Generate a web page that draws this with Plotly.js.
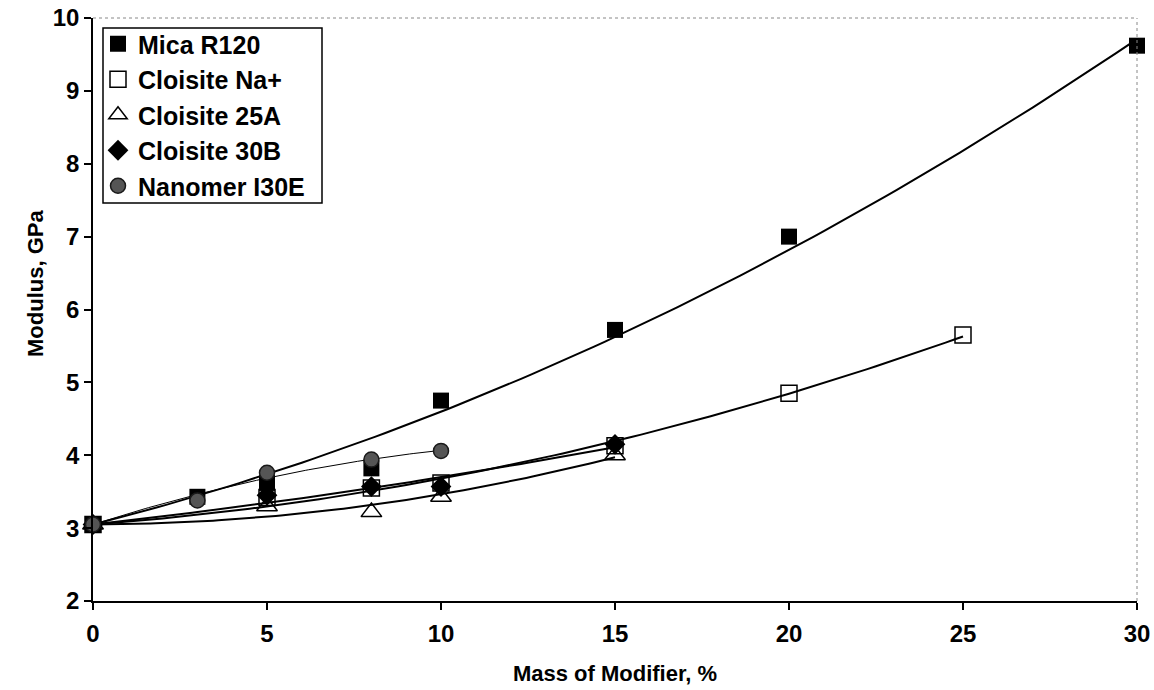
<!DOCTYPE html>
<html>
<head>
<meta charset="utf-8">
<script src="https://cdn.plot.ly/plotly-3.0.1.min.js"></script>
<style>html,body{margin:0;padding:0;background:#fff;}#chart{width:1154px;height:690px;}</style>
</head>
<body>
<div id="chart"></div>
<script>
// ---- data ----
const seriesNames = ["Mica R120", "Cloisite Na+", "Cloisite 25A", "Cloisite 30B", "Nanomer I30E"];
const xMica = [0, 3, 5, 8, 10, 15, 20, 30];
const yMica = [3.05, 3.43, 3.62, 3.82, 4.75, 5.72, 7.0, 9.62];
const xNa = [0, 5, 8, 10, 15, 20, 25];
const yNa = [3.05, 3.42, 3.55, 3.62, 4.13, 4.85, 5.65];
const x25A = [0, 5, 8, 10, 15];
const y25A = [3.05, 3.3, 3.22, 3.43, 4.0];
const x30B = [0, 5, 8, 10, 15];
const y30B = [3.05, 3.45, 3.57, 3.57, 4.15];
const xNano = [0, 3, 5, 8, 10];
const yNano = [3.05, 3.38, 3.76, 3.94, 4.06];
const xTickVals = [0, 5, 10, 15, 20, 25, 30];
const yTickVals = [2, 3, 4, 5, 6, 7, 8, 9, 10];

// quadratic least-squares trendline with the intercept fixed at the first (x = 0) value,
// like a spreadsheet polynomial trendline with "set intercept"
function polyFit2Fixed(xs, ys) {
  const a = ys[0];
  let s2 = 0, s3 = 0, s4 = 0, t1 = 0, t2 = 0;
  for (let i = 0; i < xs.length; i++) {
    const x = xs[i], d = ys[i] - a;
    s2 += x * x; s3 += x * x * x; s4 += x * x * x * x;
    t1 += x * d; t2 += x * x * d;
  }
  const det = s2 * s4 - s3 * s3;
  const b = (t1 * s4 - t2 * s3) / det;
  const c = (s2 * t2 - s3 * t1) / det;
  return x => a + b * x + c * x * x;
}
function trend(xs, ys, width) {
  const f = polyFit2Fixed(xs, ys);
  const x0 = Math.min(...xs), x1 = Math.max(...xs);
  const tx = [], ty = [];
  for (let i = 0; i <= 100; i++) { const x = x0 + (x1 - x0) * i / 100; tx.push(x); ty.push(f(x)); }
  return {x: tx, y: ty, mode: 'lines', line: {color: '#000', width: width}, showlegend: false,
          hoverinfo: 'skip', cliponaxis: false};
}

const FONT = '"Liberation Sans", Arial, sans-serif';
const traces = [
  trend(xMica, yMica, 2),
  trend(xNa, yNa, 2),
  trend(x25A, y25A, 2),
  trend(x30B, y30B, 2),
  trend(xNano, yNano, 1),
  {x: xMica, y: yMica, name: seriesNames[0], mode: 'markers', legendgroup: 'a', cliponaxis: false,
   marker: {symbol: 'square', size: 16, color: '#000'}},
  {x: xNa, y: yNa, name: seriesNames[1], mode: 'markers', legendgroup: 'b', cliponaxis: false,
   marker: {symbol: 'square-open', size: 16, color: '#000', line: {width: 1.5, color: '#000'}}},
  {x: x25A, y: y25A, name: seriesNames[2], mode: 'markers', legendgroup: 'c', cliponaxis: false,
   marker: {symbol: 'triangle-up-open', size: 18, color: '#000', line: {width: 1.5, color: '#000'}}},
  {x: x30B, y: y30B, name: seriesNames[3], mode: 'markers', legendgroup: 'd', cliponaxis: false,
   marker: {symbol: 'diamond', size: 16, color: '#000'}},
  {x: xNano, y: yNano, name: seriesNames[4], mode: 'markers', legendgroup: 'e', cliponaxis: false,
   marker: {symbol: 'circle', size: 15, color: '#555', line: {width: 1.5, color: '#1a1a1a'}}}
];

// plot area in pixels: x 93..1137, y 18..601
const PL = 93, PR = 1137, PT = 18, PB = 601;
const px = v => (v - PL) / (PR - PL);
const py = v => 1 - (v - PT) / (PB - PT);

const layout = {
  width: 1154, height: 690,
  paper_bgcolor: '#fff', plot_bgcolor: '#fff',
  margin: {l: PL, r: 1154 - PR, t: PT, b: 690 - PB},
  font: {family: FONT, color: '#000', size: 23, weight: 'bold'},
  showlegend: true,
  legend: {x: px(98), y: py(21), xanchor: 'left', yanchor: 'top',
    bgcolor: 'rgba(0,0,0,0)', borderwidth: 0,
    font: {family: FONT, size: 25, color: '#000', weight: 'bold'},
    traceorder: 'grouped', tracegroupgap: 0, itemwidth: 30},
  xaxis: {range: [0, 30], tickvals: xTickVals, ticks: 'outside', ticklen: 7, tickwidth: 1.5, tickcolor: '#000',
    showline: true, linecolor: '#000', linewidth: 1.5, showgrid: false, zeroline: false,
    ticklabelstandoff: 3,
    tickfont: {family: FONT, size: 24, weight: 'bold'},
    title: {text: 'Mass of Modifier, %', font: {family: FONT, size: 22, weight: 'bold'}, standoff: 20}},
  yaxis: {range: [2, 10], tickvals: yTickVals, ticks: 'outside', ticklen: 7, tickwidth: 1.5, tickcolor: '#000',
    showline: true, linecolor: '#000', linewidth: 1.5, showgrid: false, zeroline: false,
    tickfont: {family: FONT, size: 24, weight: 'bold'}},
  annotations: [
    {text: 'Modulus, GPa', xref: 'paper', yref: 'paper', x: px(35), y: py(284),
     xanchor: 'center', yanchor: 'middle', textangle: -90, showarrow: false,
     font: {family: FONT, size: 22, weight: 'bold', color: '#000'}}
  ],
  shapes: [
    {type: 'line', xref: 'paper', yref: 'paper', x0: 0, x1: 1, y0: 1, y1: 1, line: {color: '#888', width: 1, dash: 'dot'}},
    {type: 'line', xref: 'paper', yref: 'paper', x0: 1, x1: 1, y0: 0, y1: 1, line: {color: '#888', width: 1, dash: 'dot'}},
    {type: 'rect', xref: 'paper', yref: 'paper', x0: px(103), x1: px(322), y0: py(203), y1: py(28),
     line: {color: '#000', width: 1.5}, fillcolor: '#fff', layer: 'above'}
  ]
};

Plotly.newPlot('chart', traces, layout, {displayModeBar: false, responsive: false});
</script>
</body>
</html>
